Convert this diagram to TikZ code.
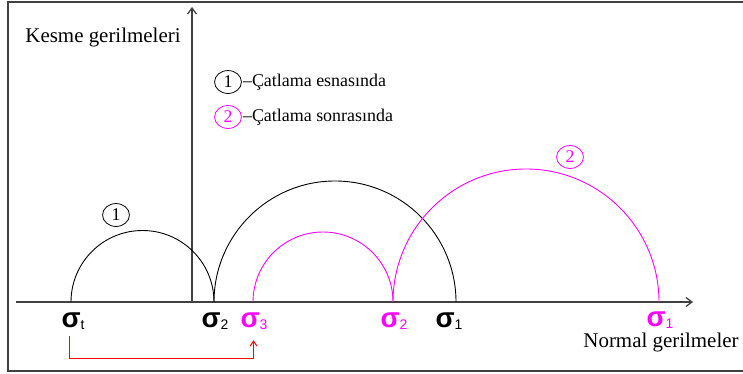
\documentclass[tikz,border=0pt]{standalone}
\usepackage{fontspec}
\setmainfont{Liberation Serif}
\newfontfamily\sigfont{Liberation Sans}
\usetikzlibrary{arrows.meta,positioning,shapes.geometric}
\definecolor{mag}{RGB}{255,0,255}
\definecolor{axgray}{RGB}{64,64,64}
\definecolor{crackred}{RGB}{255,0,0}
\tikzset{>={Straight Barb[length=6pt,width=9pt]},every node/.style={font=\fontsize{21}{24}\selectfont},
  axis/.style={axgray,line width=1.3pt,->},mohr/.style={line width=0.9pt},
  num/.style={draw,ellipse,line width=0.8pt,minimum width=27,minimum height=23,inner sep=0pt,font=\fontsize{18}{20}\selectfont},
  sig/.style={anchor=base,inner sep=1pt,font=\sigfont\bfseries\fontsize{28}{30}\selectfont},
  crack/.style={draw=crackred,line width=1pt}}
\newcommand{\sg}[1]{σ\raisebox{-3pt}{\mdseries\fontsize{14}{14}\selectfont#1}}

\begin{document}
\begin{tikzpicture}[x=1bp,y=1bp]
\useasboundingbox (0,0) rectangle (743,373);
\draw[axgray,line width=1.5pt] (746,371)--(8,371)--(8,2)--(746,2);
\coordinate (xa) at (16,71);\coordinate (xb) at (693,71);
\coordinate (ya) at (192,71);\coordinate (yb) at (192,366);
\draw[axis] (xa)--(xb);\draw[axis] (ya)--(yb);
\node (tau) at (103,336){Kesme gerilmeleri};
\node (nor) at (661,31){Normal gerilmeler};
% Mohr daireleri
\draw[mohr] (214,71) arc[start angle=0,end angle=180,radius=71.5];
\draw[mohr] (456,71) arc[start angle=0,end angle=180,radius=121];
\draw[mohr,mag] (393,71) arc[start angle=0,end angle=180,radius=70];
\draw[mohr,mag] (659,71) arc[start angle=0,end angle=180,radius=133];
\node[num] (c1) at (116,158){1};
\node[num,mag] (c2) at (570,216){2};
% lejant
\node[num] (l1) at (228,291){1};
\node[right=1pt of l1,font=\fontsize{18}{20}\selectfont,inner sep=0pt] (t1){–Çatlama esnasında};
\node[num,mag] (l2) at (228,256){2};
\node[right=1pt of l2,font=\fontsize{18}{20}\selectfont,inner sep=0pt] (t2){–Çatlama sonrasında};
% gerilmeler
\node[sig] (st) at (73,46){\sg{t}};
\node[sig] (s2) at (215,46){\sg{2}};
\node[sig,mag] (s3) at (254,46){\sg{3}};
\node[sig,mag] (s2m) at (394,46){\sg{2}};
\node[sig] (s1) at (449,46){\sg{1}};
\node[sig,mag] (s1m) at (660,47){\sg{1}};
\coordinate (kb) at ([xshift=-3.5bp,yshift=-5bp]st.south);
\coordinate (ke) at ([xshift=-0.5bp,yshift=-9bp]s3.south);
\coordinate (kc) at (0,14.5);
\draw[crack,-{Straight Barb[length=5pt,width=7pt]}] (kb) -- (kb |- kc) -- (ke |- kc) -- (ke);
\end{tikzpicture}
\end{document}
